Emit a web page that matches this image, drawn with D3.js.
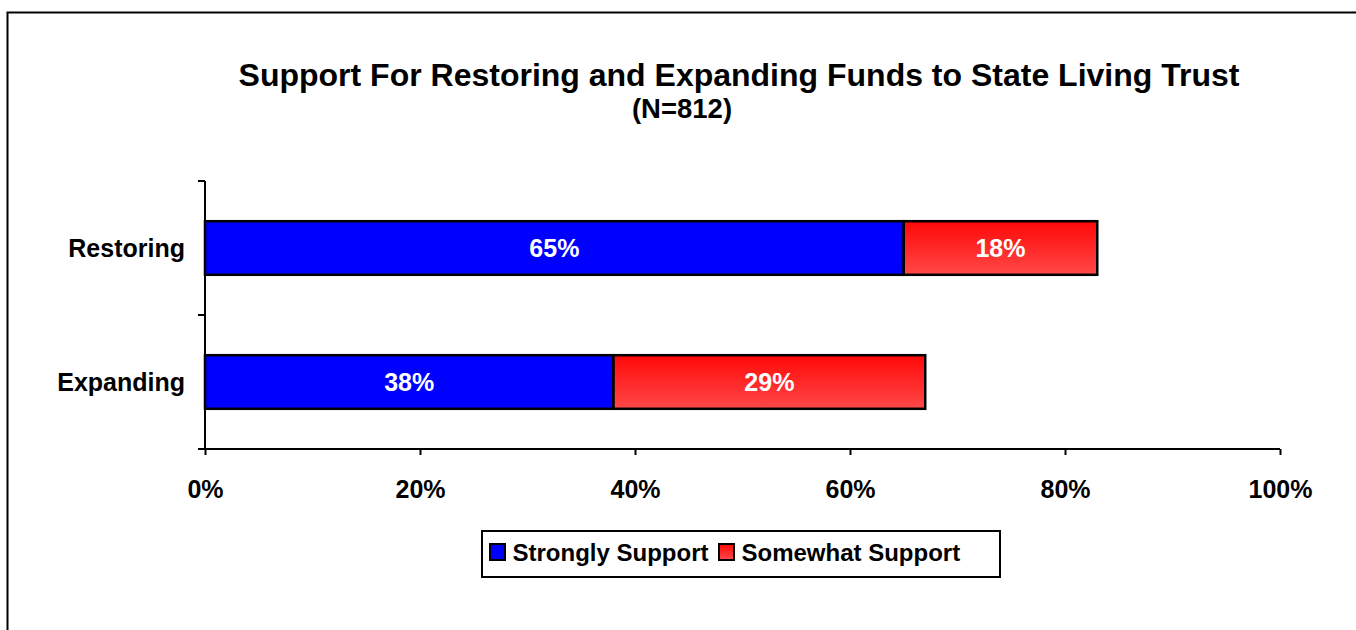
<!DOCTYPE html>
<html><head><meta charset="utf-8">
<script src="https://cdn.jsdelivr.net/npm/d3@7"></script>
<style>body{margin:0;background:#fff;}svg{display:block;font-family:"Liberation Sans",Arial,sans-serif;}</style>
</head><body><svg id="c" width="1356" height="630"></svg>
<script>
const categories = ["Restoring", "Expanding"];
const strongly = [65, 38];
const somewhat = [18, 29];
const seriesNames = ["Strongly Support", "Somewhat Support"];
const xTicks = [0, 20, 40, 60, 80, 100];

const svg = d3.select("#c");
const defs = svg.append("defs");
const g = defs.append("linearGradient").attr("id","red").attr("x1",0).attr("y1",0).attr("x2",0).attr("y2",1);
g.append("stop").attr("offset","0%").attr("stop-color","#ff0808");
g.append("stop").attr("offset","100%").attr("stop-color","#ff4848");

// frame
svg.append("path").attr("d","M7.5,630 V12.5 H1356").attr("fill","none").attr("stroke","#000").attr("stroke-width",2);

svg.append("text").attr("x",739).attr("y",86).attr("text-anchor","middle").attr("font-size",32).attr("font-weight","bold").text("Support For Restoring and Expanding Funds to State Living Trust");
svg.append("text").attr("x",682).attr("y",118).attr("text-anchor","middle").attr("font-size",27.5).attr("font-weight","bold").text("(N=812)");

const x = d3.scaleLinear().domain([0,100]).range([205,1280]);
const y = d3.scaleBand().domain(categories).range([181,449]).paddingInner(0.6).paddingOuter(0.3);

// y axis
const ya = svg.append("g").attr("transform","translate(205,0)");
ya.append("line").attr("x1",0).attr("x2",0).attr("y1",181).attr("y2",449).attr("stroke","#000").attr("stroke-width",2);
[181,315,449].forEach(v=>ya.append("line").attr("x1",-7).attr("x2",0).attr("y1",v).attr("y2",v).attr("stroke","#000").attr("stroke-width",2));
categories.forEach(c=>svg.append("text").attr("x",185).attr("y",y(c)+y.bandwidth()/2).attr("dy","0.35em").attr("text-anchor","end").attr("font-size",25).attr("font-weight","bold").text(c));

// x axis
const xa = svg.append("g").attr("transform","translate(0,449)")
  .call(d3.axisBottom(x).tickValues(xTicks).tickSize(6).tickFormat(d=>d+"%"));
xa.select(".domain").attr("stroke-width",2).attr("d","M205,0H1280");
xa.selectAll(".tick line").attr("stroke-width",2);
xa.selectAll(".tick text").attr("font-size",25).attr("font-weight","bold").attr("font-family","Liberation Sans, Arial, sans-serif").attr("y",49).attr("dy",0).attr("fill","#000");

const data = categories.map((c,i)=>({c, a:strongly[i], b:somewhat[i]}));
const bars = svg.append("g");
data.forEach(d=>{
  const yy = y(d.c), h = y.bandwidth();
  bars.append("rect").attr("x",x(0)).attr("y",yy).attr("width",x(d.a)-x(0)).attr("height",h).attr("fill","#0000ff").attr("stroke","#000").attr("stroke-width",2.5);
  bars.append("rect").attr("x",x(d.a)).attr("y",yy).attr("width",x(d.a+d.b)-x(d.a)).attr("height",h).attr("fill","url(#red)").attr("stroke","#000").attr("stroke-width",2.5);
  bars.append("text").attr("x",(x(0)+x(d.a))/2).attr("y",yy+h/2).attr("dy","0.36em").attr("text-anchor","middle").attr("fill","#fff").attr("font-size",25).attr("font-weight","bold").text(d.a+"%");
  bars.append("text").attr("x",(x(d.a)+x(d.a+d.b))/2).attr("y",yy+h/2).attr("dy","0.36em").attr("text-anchor","middle").attr("fill","#fff").attr("font-size",25).attr("font-weight","bold").text(d.b+"%");
});

// legend
const lg = svg.append("g");
lg.append("rect").attr("x",482).attr("y",531).attr("width",518).attr("height",46).attr("fill","#fff").attr("stroke","#000").attr("stroke-width",2);
const lx = [490, 719];
seriesNames.forEach((s,i)=>{
  lg.append("rect").attr("x",lx[i]).attr("y",544).attr("width",15).attr("height",16).attr("fill",i?"url(#red)":"#0000ff").attr("stroke","#000").attr("stroke-width",2);
  lg.append("text").attr("x",lx[i]+22.5).attr("y",552).attr("dy","0.36em").attr("font-size",24).attr("font-weight","bold").text(s);
});
</script></body></html>
